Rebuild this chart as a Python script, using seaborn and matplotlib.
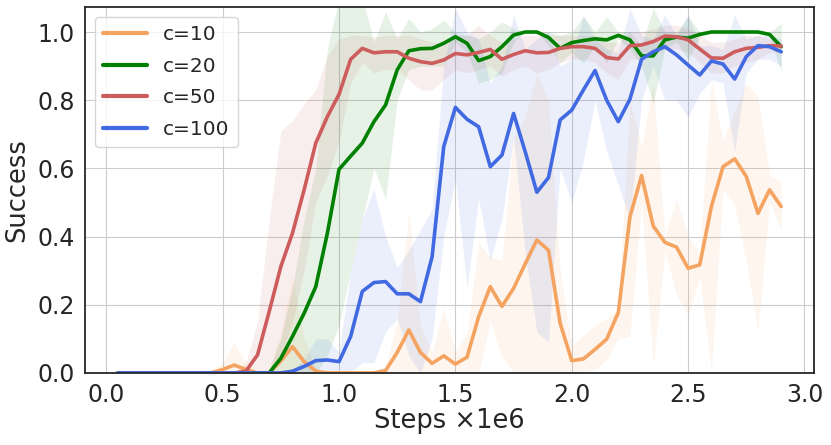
import numpy as np
import pandas as pd
import matplotlib
matplotlib.use('Agg')
import matplotlib.pyplot as plt
import seaborn as sns

# training steps (x1e6)
steps = [0.05, 0.10, 0.15, 0.20, 0.25, 0.30, 0.35, 0.40, 0.45, 0.50,
         0.55, 0.60, 0.65, 0.70, 0.75, 0.80, 0.85, 0.90, 0.95, 1.00,
         1.05, 1.10, 1.15, 1.20, 1.25, 1.30, 1.35, 1.40, 1.45, 1.50,
         1.55, 1.60, 1.65, 1.70, 1.75, 1.80, 1.85, 1.90, 1.95, 2.00,
         2.05, 2.10, 2.15, 2.20, 2.25, 2.30, 2.35, 2.40, 2.45, 2.50,
         2.55, 2.60, 2.65, 2.70, 2.75, 2.80, 2.85, 2.90]

labels = ['c=10', 'c=20', 'c=50', 'c=100']
colors = ['#F4A460', '#008000', '#CD5C5C', '#4169E1']

# mean success per setting
c10_mean = [0, 0, 0, 0, 0, 0, 0, 0, 0, 0.01,
            0.023, 0.01, 0, 0, 0.035, 0.077, 0.033, 0.005, 0, 0,
            0, 0, 0, 0.007, 0.06, 0.126, 0.06, 0.028, 0.05, 0.026,
            0.046, 0.165, 0.253, 0.195, 0.248, 0.32, 0.39, 0.36, 0.146, 0.036,
            0.041, 0.069, 0.099, 0.177, 0.458, 0.579, 0.431, 0.383, 0.369, 0.307,
            0.317, 0.488, 0.605, 0.628, 0.576, 0.468, 0.537, 0.488]
c20_mean = [0, 0, 0, 0, 0, 0, 0, 0, 0, 0,
            0, 0, 0, 0, 0.043, 0.107, 0.175, 0.253, 0.41, 0.597,
            0.636, 0.674, 0.737, 0.786, 0.889, 0.945, 0.951, 0.952, 0.967, 0.986,
            0.967, 0.916, 0.928, 0.957, 0.991, 1.0, 1.0, 0.984, 0.952, 0.969,
            0.975, 0.98, 0.977, 0.99, 0.977, 0.93, 0.93, 0.977, 0.985, 0.982,
            0.993, 1.0, 1.0, 1.0, 1.0, 1.0, 0.993, 0.957]
c50_mean = [0, 0, 0, 0, 0, 0, 0, 0, 0, 0,
            0, 0.005, 0.053, 0.18, 0.312, 0.41, 0.537, 0.674, 0.752, 0.817,
            0.92, 0.952, 0.939, 0.942, 0.942, 0.923, 0.913, 0.908, 0.918, 0.937,
            0.933, 0.94, 0.949, 0.92, 0.934, 0.945, 0.939, 0.94, 0.952, 0.957,
            0.957, 0.952, 0.925, 0.921, 0.96, 0.962, 0.972, 0.988, 0.986, 0.977,
            0.95, 0.924, 0.923, 0.942, 0.952, 0.955, 0.96, 0.959]
c100_mean = [0, 0, 0, 0, 0, 0, 0, 0, 0, 0,
             0, 0, 0, 0, 0, 0.005, 0.019, 0.036, 0.038, 0.033,
             0.107, 0.239, 0.265, 0.268, 0.232, 0.232, 0.209, 0.341, 0.664, 0.779,
             0.744, 0.722, 0.605, 0.639, 0.761, 0.649, 0.53, 0.573, 0.742, 0.771,
             0.83, 0.887, 0.8, 0.737, 0.803, 0.92, 0.942, 0.957, 0.933, 0.903,
             0.874, 0.915, 0.906, 0.862, 0.928, 0.96, 0.957, 0.942]

# shaded band edges
c10_low = [0, 0, 0, 0, 0, 0, 0, 0, 0, 0,
           0, 0, 0, 0, 0, 0, 0, 0, 0, 0,
           0, 0, 0, 0, 0, 0, 0, 0, 0, 0,
           0, 0, 0.15, 0.05, 0, 0, 0, 0, 0, 0,
           0, 0.01, 0.04, 0.1, 0.107, 0.5, 0.02, 0.36, 0.23, 0.17,
           0.28, 0.005, 0.54, 0.49, 0.33, 0.12, 0.5, 0.42]
c10_high = [0, 0, 0, 0, 0, 0, 0, 0, 0.01, 0.03,
            0.09, 0.03, 0, 0.01, 0.12, 0.28, 0.1, 0.015, 0, 0,
            0, 0, 0, 0.02, 0.15, 0.47, 0.14, 0.06, 0.19, 0.06,
            0.12, 0.38, 0.34, 0.33, 0.69, 0.75, 0.88, 0.8, 0.3, 0.08,
            0.11, 0.14, 0.16, 0.19, 0.8, 0.66, 0.85, 0.4, 0.51, 0.4,
            0.35, 0.86, 0.68, 0.77, 0.85, 0.81, 0.58, 0.56]
c20_low = [0, 0, 0, 0, 0, 0, 0, 0, 0, 0,
           0, 0, 0, 0, 0, 0, 0, 0, 0.05, 0.14,
           0.3, 0.45, 0.6, 0.51, 0.8, 0.89, 0.9, 0.9, 0.9, 0.97,
           0.94, 0.85, 0.86, 0.88, 0.97, 1.0, 1.0, 0.96, 0.91, 0.94,
           0.908, 0.96, 0.91, 0.98, 0.95, 0.9, 0.79, 0.95, 0.97, 0.92,
           0.985, 1.0, 1.0, 1.0, 1.0, 1.0, 0.985, 0.884]
c20_high = [0, 0, 0, 0, 0, 0, 0, 0, 0, 0,
            0, 0, 0, 0.01, 0.1, 0.25, 0.45, 0.6, 0.95, 1.1,
            1.15, 1.1, 0.97, 1.06, 0.98, 1.04, 1.0, 1.01, 1.035, 1.0,
            0.99, 0.98, 1.0, 1.03, 1.01, 1.0, 1.0, 1.0, 0.99, 1.0,
            1.045, 1.0, 1.045, 1.0, 1.0, 0.96, 1.07, 1.0, 1.0, 1.045,
            1.0, 1.0, 1.0, 1.0, 1.0, 1.0, 1.0, 1.025]
c50_low = [0, 0, 0, 0, 0, 0, 0, 0, 0, 0,
           0, 0, 0, 0, 0.05, 0.15, 0.3, 0.5, 0.58, 0.68,
           0.85, 0.91, 0.88, 0.89, 0.89, 0.86, 0.83, 0.83, 0.86, 0.89,
           0.88, 0.89, 0.9, 0.87, 0.89, 0.9, 0.88, 0.89, 0.91, 0.92,
           0.92, 0.91, 0.88, 0.86, 0.92, 0.92, 0.93, 0.95, 0.95, 0.94,
           0.91, 0.88, 0.88, 0.9, 0.91, 0.92, 0.94, 0.945]
c50_high = [0, 0, 0, 0, 0, 0, 0, 0, 0, 0,
            0, 0.03, 0.15, 0.45, 0.71, 0.74, 0.79, 0.83, 0.93, 0.98,
            0.99, 0.99, 0.985, 0.99, 0.99, 0.99, 0.98, 0.97, 0.97, 0.99,
            0.99, 1.02, 0.99, 0.97, 0.98, 0.99, 0.99, 0.99, 0.99, 0.99,
            0.99, 0.99, 0.97, 0.97, 1.0, 1.0, 1.01, 1.02, 1.02, 1.01,
            0.99, 0.97, 0.97, 0.98, 0.99, 0.99, 0.98, 0.97]
c100_low = [0, 0, 0, 0, 0, 0, 0, 0, 0, 0,
            0, 0, 0, 0, 0, 0, 0, 0, 0, 0,
            0, 0.03, 0.03, 0.12, 0.16, 0.05, 0, 0.1, 0.4, 0.57,
            0.25, 0.51, 0.33, 0.45, 0.69, 0.35, 0.12, 0.09, 0.6, 0.5,
            0.62, 0.8, 0.65, 0.55, 0.45, 0.8, 0.9, 0.8, 0.8, 0.75,
            0.82, 0.86, 0.85, 0.65, 0.88, 0.92, 0.92, 0.9]
c100_high = [0, 0, 0, 0, 0, 0, 0, 0, 0, 0,
             0, 0, 0, 0, 0, 0.01, 0.04, 0.1, 0.1, 0.06,
             0.3, 0.45, 0.54, 0.4, 0.31, 0.36, 0.42, 0.48, 0.9, 1.07,
             1.0, 0.98, 0.85, 0.9, 1.05, 0.95, 0.98, 1.0, 0.9, 0.92,
             1.05, 0.98, 0.95, 0.94, 1.07, 0.99, 0.98, 1.05, 0.99, 1.05,
             0.96, 0.96, 0.95, 1.05, 0.98, 0.99, 0.99, 0.98]

means = [c10_mean, c20_mean, c50_mean, c100_mean]
lows = [c10_low, c20_low, c50_low, c100_low]
highs = [c10_high, c20_high, c50_high, c100_high]

df = pd.concat([pd.DataFrame({'steps': steps, 'success': m, 'run': lab})
                for m, lab in zip(means, labels)], ignore_index=True)

sns.set_style('whitegrid', {'axes.edgecolor': '.15', 'grid.color': '.8'})
fig, ax = plt.subplots(figsize=(8.31, 4.45), dpi=100)
fig.subplots_adjust(left=0.102, right=0.98, bottom=0.162, top=0.984)

# shaded spread first, lines on top
for lo, hi, col in zip(lows, highs, colors):
    ax.fill_between(steps, lo, hi, color=col, alpha=0.1, linewidth=0)

sns.lineplot(data=df, x='steps', y='success', hue='run', hue_order=labels,
             palette=dict(zip(labels, colors)), linewidth=2.6, ax=ax)

ax.set_ylim(0, 1.073)
ax.set_xticks([0.0, 0.5, 1.0, 1.5, 2.0, 2.5, 3.0])
ax.set_yticks([0.0, 0.2, 0.4, 0.6, 0.8, 1.0])
ax.tick_params(labelsize=17, colors='.15')
ax.set_xlabel('Steps ×1e6', fontsize=18.5, color='.15', labelpad=1)
ax.set_ylabel('Success', fontsize=18.5, color='.15', labelpad=5)
for s in ax.spines.values():
    s.set_linewidth(1.3)

leg = ax.legend(loc='upper left', fontsize=14.5, handlelength=2.2,
                labelspacing=0.62)
leg.set_title(None)
for line in leg.get_lines():
    line.set_linewidth(3)

plt.savefig('out.png', dpi=100)
